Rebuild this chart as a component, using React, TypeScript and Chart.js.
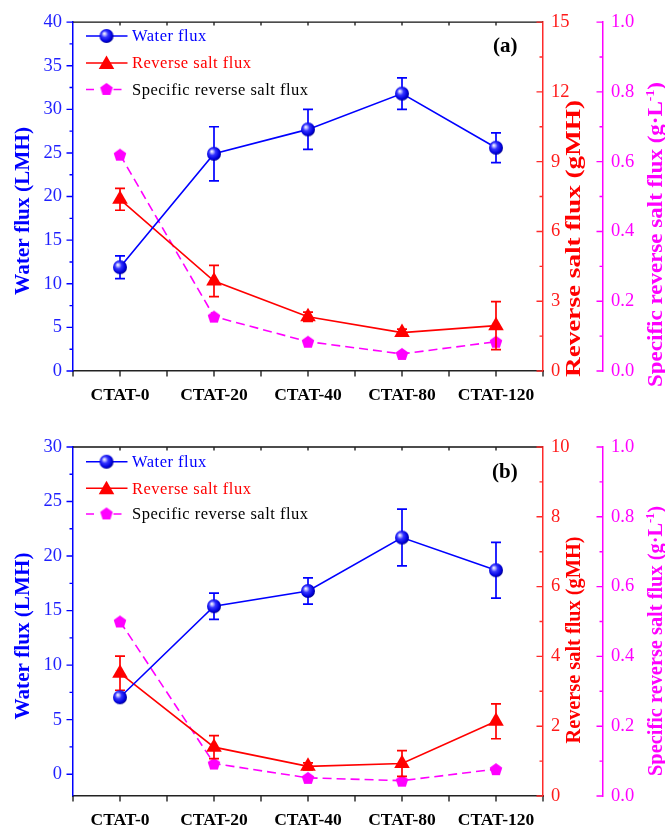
import React, { useEffect, useRef } from 'react';
import { Chart, registerables } from 'chart.js';
Chart.register(...registerables);

// ---------------- data ----------------
const categories = ['CTAT-0', 'CTAT-20', 'CTAT-40', 'CTAT-80', 'CTAT-120'];
const legendLabels = ['Water flux', 'Reverse salt flux', 'Specific reverse salt flux'];

const waterFluxA = [11.9, 24.9, 27.7, 31.8, 25.6];
const waterErrA = [1.3, 3.1, 2.3, 1.8, 1.7];
const reverseSaltA = [7.38, 3.87, 2.33, 1.65, 1.95];
const reverseErrA = [0.47, 0.67, 0.2, 0.15, 1.03];
const specificA = [0.62, 0.156, 0.084, 0.049, 0.084];

const waterFluxB = [7.05, 15.4, 16.8, 21.7, 18.7];
const waterErrB = [0.3, 1.2, 1.2, 2.6, 2.55];
const reverseSaltB = [3.52, 1.4, 0.85, 0.93, 2.14];
const reverseErrB = [0.49, 0.33, 0.1, 0.37, 0.5];
const specificB = [0.5, 0.093, 0.052, 0.044, 0.077];

const waterRangeA = [0, 40];
const reverseRangeA = [0, 15];
const waterRangeB = [-2, 30];
const reverseRangeB = [0, 10];
const specificRange = [0, 1];

// ---------------- styles ----------------
const BLUE = '#0000ff';
const RED = '#ff0000';
const MAG = '#ff00ff';
const SERIF = '"Liberation Serif", "Times New Roman", serif';

type Spec = {
  label: string;
  water: number[]; waterErr: number[];
  reverse: number[]; reverseErr: number[];
  specific: number[];
  left: number[]; leftStep: number; leftMajor: number;
  red: number[]; redStep: number; redMajor: number;
  padTop: number; xHeight: number;
  legendY: number[]; labelY: number; labelX: number;
  titleY: { blue: number; red: number; mag: number };
  titleLen: { blue: number; red: number; mag: number };
};

const panels: Spec[] = [
  {
    label: '(a)', water: waterFluxA, waterErr: waterErrA, reverse: reverseSaltA, reverseErr: reverseErrA, specific: specificA,
    left: waterRangeA, leftStep: 2.5, leftMajor: 5, red: reverseRangeA, redStep: 1.5, redMajor: 3,
    padTop: 22, xHeight: 43, legendY: [36, 63, 89.5], labelY: 46.7, labelX: 493,
    titleY: { blue: 211, red: 238.5, mag: 234.5 }, titleLen: { blue: 168, red: 277, mag: 305 },
  },
  {
    label: '(b)', water: waterFluxB, waterErr: waterErrB, reverse: reverseSaltB, reverseErr: reverseErrB, specific: specificB,
    left: waterRangeB, leftStep: 2.5, leftMajor: 5, red: reverseRangeB, redStep: 1, redMajor: 2,
    padTop: 33, xHeight: 32, legendY: [47.7, 74.3, 100], labelY: 58.3, labelX: 492,
    titleY: { blue: 222, red: 226, mag: 227 }, titleLen: { blue: 167, red: 207, mag: 270 },
  },
];

const isMult = (v: number, m: number) => Math.abs(v / m - Math.round(v / m)) < 1e-6;

function makeSphere(): HTMLCanvasElement {
  const c = document.createElement('canvas');
  c.width = 16; c.height = 16;
  const g = c.getContext('2d')!;
  const cx = 8, cy = 8, r = 7;
  const grad = g.createRadialGradient(cx - 2.3, cy - 2.5, 0, cx - 0.8, cy - 0.8, 8);
  grad.addColorStop(0, '#ffffff');
  grad.addColorStop(0.15, '#c4c4ff');
  grad.addColorStop(0.42, '#3434ff');
  grad.addColorStop(0.8, '#0000dd');
  grad.addColorStop(1, '#000090');
  g.fillStyle = grad;
  g.beginPath(); g.arc(cx, cy, r, 0, Math.PI * 2); g.fill();
  return c;
}

function makePentagon(): HTMLCanvasElement {
  const c = document.createElement('canvas');
  c.width = 16; c.height = 16;
  const g = c.getContext('2d')!;
  const cx = 8, cy = 8.6, r = 6.6;
  g.fillStyle = MAG;
  g.beginPath();
  for (let k = 0; k < 5; k++) {
    const a = -Math.PI / 2 + k * (2 * Math.PI / 5);
    const x = cx + r * Math.cos(a), y = cy + r * Math.sin(a);
    if (k === 0) g.moveTo(x, y); else g.lineTo(x, y);
  }
  g.closePath(); g.fill();
  return c;
}

function drawTriangle(ctx: CanvasRenderingContext2D, x: number, y: number, r: number) {
  ctx.beginPath();
  let rad = 0;
  ctx.moveTo(x + Math.sin(rad) * r, y - Math.cos(rad) * r);
  rad += (2 * Math.PI) / 3;
  ctx.lineTo(x + Math.sin(rad) * r, y - Math.cos(rad) * r);
  rad += (2 * Math.PI) / 3;
  ctx.lineTo(x + Math.sin(rad) * r, y - Math.cos(rad) * r);
  ctx.closePath();
  ctx.fill();
}

function drawVTitle(ctx: CanvasRenderingContext2D, parts: { text: string; font: string; dy?: number }[], cx: number, cy: number, target: number, color: string) {
  ctx.save();
  ctx.fillStyle = color;
  let total = 0;
  const widths = parts.map((p) => { ctx.font = p.font; const w = ctx.measureText(p.text).width; total += w; return w; });
  ctx.translate(cx, cy);
  ctx.rotate(-Math.PI / 2);
  ctx.scale(target / total, 1);
  ctx.textBaseline = 'middle';
  ctx.textAlign = 'left';
  let x = -total / 2;
  parts.forEach((p, i) => { ctx.font = p.font; ctx.fillText(p.text, x, p.dy || 0); x += widths[i]; });
  ctx.restore();
}

function makeDecor(spec: Spec, sphere: HTMLCanvasElement, pentagon: HTMLCanvasElement) {
  const errs = [spec.waterErr, spec.reverseErr, null];
  const errColors = [BLUE, RED, MAG];
  return {
    id: 'decor',
    beforeDatasetDraw(chart: any, args: any) {
      const e = errs[args.index];
      if (!e) return;
      const meta = args.meta;
      const ys = chart.scales[meta.yAxisID];
      const ds = chart.data.datasets[args.index];
      const ctx: CanvasRenderingContext2D = chart.ctx;
      ctx.save();
      ctx.strokeStyle = errColors[args.index];
      ctx.lineWidth = 1.7;
      meta.data.forEach((pt: any, j: number) => {
        const v = ds.data[j].y;
        const x = pt.x;
        const y1 = ys.getPixelForValue(v + e[j]);
        const y2 = ys.getPixelForValue(v - e[j]);
        ctx.beginPath();
        ctx.moveTo(x, y1); ctx.lineTo(x, y2);
        ctx.moveTo(x - 5, y1); ctx.lineTo(x + 5, y1);
        ctx.moveTo(x - 5, y2); ctx.lineTo(x + 5, y2);
        ctx.stroke();
      });
      ctx.restore();
    },
    afterDraw(chart: any) {
      const ctx: CanvasRenderingContext2D = chart.ctx;
      const ca = chart.chartArea;
      const xs = chart.scales.x, yl = chart.scales.y, yr = chart.scales.yRed, ym = chart.scales.yMag;
      ctx.save();
      ctx.lineWidth = 1.4;
      // top frame line
      ctx.strokeStyle = '#111';
      ctx.beginPath(); ctx.moveTo(ca.left, ca.top); ctx.lineTo(ca.right, ca.top); ctx.stroke();
      // x ticks
      ctx.strokeStyle = '#222';
      ctx.beginPath();
      xs.ticks.forEach((t: any) => {
        const x = xs.getPixelForValue(t.value);
        ctx.moveTo(x, ca.bottom); ctx.lineTo(x, ca.bottom + 5.5);
        if (t.value > xs.min + 1e-6 && t.value < xs.max - 1e-6) { ctx.moveTo(x, ca.top); ctx.lineTo(x, ca.top + 3.5); }
      });
      ctx.stroke();
      const yTicks = (scale: any, step: number, major: number, x: number, dir: number, color: string) => {
        ctx.strokeStyle = color;
        ctx.beginPath();
        scale.ticks.forEach((t: any) => {
          if (!isMult(t.value, step)) return;
          const y = scale.getPixelForValue(t.value);
          const len = isMult(t.value, major) ? 6.5 : 3.5;
          ctx.moveTo(x, y); ctx.lineTo(x + dir * len, y);
        });
        ctx.stroke();
      };
      yTicks(yl, spec.leftStep, spec.leftMajor, yl.right, -1, BLUE);
      yTicks(yr, spec.redStep, spec.redMajor, yr.left, -1, '#ff2a2a');
      yTicks(ym, 0.1, 0.2, ym.left, -1, MAG);
      ctx.restore();

      // axis titles
      const tf = `bold 20px ${SERIF}`;
      drawVTitle(ctx, [{ text: 'Water flux (LMH)', font: tf }], 24, spec.titleY.blue, spec.titleLen.blue, BLUE);
      drawVTitle(ctx, [{ text: 'Reverse salt flux (gMH)', font: tf }], 575, spec.titleY.red, spec.titleLen.red, RED);
      drawVTitle(ctx, [
        { text: 'Specific reverse salt flux (g\u00B7L', font: tf },
        { text: '-1', font: `bold 12px ${SERIF}`, dy: -6 },
        { text: ')', font: tf },
      ], 657, spec.titleY.mag, spec.titleLen.mag, MAG);

      // legend
      ctx.save();
      const lx0 = 86, lx1 = 127.5, mx = 106.5, tx = 132;
      ctx.lineWidth = 1.6;
      // water
      let y = spec.legendY[0];
      ctx.strokeStyle = BLUE;
      ctx.beginPath(); ctx.moveTo(lx0, y); ctx.lineTo(lx1, y); ctx.stroke();
      ctx.drawImage(sphere, mx - 8, y - 8);
      // reverse
      y = spec.legendY[1];
      ctx.strokeStyle = RED;
      ctx.beginPath(); ctx.moveTo(lx0, y); ctx.lineTo(lx1, y); ctx.stroke();
      ctx.fillStyle = RED;
      drawTriangle(ctx, mx, y + 1.5, 9);
      // specific
      y = spec.legendY[2];
      ctx.strokeStyle = MAG;
      ctx.beginPath(); ctx.moveTo(lx0, y); ctx.lineTo(lx0 + 8, y); ctx.moveTo(113.5, y); ctx.lineTo(121.5, y); ctx.stroke();
      ctx.drawImage(pentagon, mx - 8, y - 8.6);
      ctx.font = `16.5px ${SERIF}`;
      (ctx as any).letterSpacing = '0.5px';
      ctx.textBaseline = 'middle';
      ctx.textAlign = 'left';
      const colors = [BLUE, RED, '#000'];
      legendLabels.forEach((l, i) => { ctx.fillStyle = colors[i]; ctx.fillText(l, tx, spec.legendY[i] + 1); });
      (ctx as any).letterSpacing = '0px';
      // panel label
      ctx.font = `bold 21px ${SERIF}`;
      ctx.fillStyle = '#000';
      ctx.fillText(spec.label, spec.labelX, spec.labelY);
      ctx.restore();
    },
  };
}

function buildConfig(spec: Spec, sphere: HTMLCanvasElement, pentagon: HTMLCanvasElement): any {
  const pts = (arr: number[]) => arr.map((v, i) => ({ x: i, y: v }));
  const tickFont = { family: SERIF, size: 18.5 };
  return {
    type: 'line',
    data: {
      datasets: [
        {
          label: legendLabels[0], data: pts(spec.water), yAxisID: 'y',
          borderColor: BLUE, borderWidth: 1.6, pointStyle: sphere, pointRadius: 7, tension: 0, fill: false,
        },
        {
          label: legendLabels[1], data: pts(spec.reverse), yAxisID: 'yRed',
          borderColor: RED, borderWidth: 1.6, pointStyle: 'triangle', pointRadius: 9,
          pointBackgroundColor: RED, pointBorderColor: RED, pointBorderWidth: 0, tension: 0, fill: false,
        },
        {
          label: legendLabels[2], data: pts(spec.specific), yAxisID: 'yMag',
          borderColor: MAG, borderWidth: 1.6, borderDash: [9, 5], pointStyle: pentagon, pointRadius: 7, tension: 0, fill: false,
        },
      ],
    },
    options: {
      animation: false,
      responsive: false,
      devicePixelRatio: 1,
      layout: { padding: { top: spec.padTop, left: 0, right: 0, bottom: 0 } },
      plugins: { legend: { display: false }, tooltip: { enabled: false } },
      scales: {
        x: {
          type: 'linear', position: 'bottom', min: -0.5, max: 4.5,
          afterFit: (s: any) => { s.height = spec.xHeight; },
          grid: { display: false, drawTicks: false },
          border: { display: true, color: '#222', width: 1.5 },
          ticks: {
            stepSize: 0.5, autoSkip: false, maxRotation: 0, minRotation: 0, padding: 14, color: '#000',
            font: { family: SERIF, size: 17.5, weight: 'bold' },
            callback: (v: number) => (isMult(v, 1) ? categories[Math.round(v)] : ''),
          },
        },
        y: {
          type: 'linear', position: 'left', min: spec.left[0], max: spec.left[1],
          afterFit: (s: any) => { s.width = 73; },
          grid: { display: false, drawTicks: false },
          border: { display: true, color: BLUE, width: 1.5 },
          ticks: {
            stepSize: spec.leftStep, autoSkip: false, padding: 11, color: '#1f1fff', font: tickFont,
            callback: (v: number) => (isMult(v, spec.leftMajor) ? String(Math.round(v)) : ''),
          },
        },
        yRed: {
          type: 'linear', position: 'right', weight: 1, min: spec.red[0], max: spec.red[1],
          afterFit: (s: any) => { s.width = 60; },
          grid: { display: false, drawTicks: false },
          border: { display: true, color: '#ff2a2a', width: 1.5 },
          ticks: {
            stepSize: spec.redStep, autoSkip: false, padding: 8, color: '#ff1a1a', font: tickFont,
            callback: (v: number) => (isMult(v, spec.redMajor) ? String(Math.round(v)) : ''),
          },
        },
        yMag: {
          type: 'linear', position: 'right', weight: 2, min: specificRange[0], max: specificRange[1],
          afterFit: (s: any) => { s.width = 62; },
          grid: { display: false, drawTicks: false },
          border: { display: true, color: MAG, width: 1.5 },
          ticks: {
            stepSize: 0.1, autoSkip: false, padding: 8, color: MAG, font: tickFont,
            callback: (v: number) => (isMult(v, 0.2) ? v.toFixed(1) : ''),
          },
        },
      },
    },
    plugins: [makeDecor(spec, sphere, pentagon)],
  };
}

export default function App() {
  const refA = useRef<HTMLCanvasElement>(null);
  const refB = useRef<HTMLCanvasElement>(null);
  useEffect(() => {
    const sphere = makeSphere();
    const pentagon = makePentagon();
    const charts = [refA, refB].map((r, i) => new Chart(r.current!, buildConfig(panels[i], sphere, pentagon)));
    return () => charts.forEach((c) => c.destroy());
  }, []);
  return (
    <div style={{ position: 'absolute', left: 0, top: 0, width: 665, height: 828, background: '#fff' }}>
      <canvas ref={refA} width={665} height={414} style={{ position: 'absolute', left: 0, top: 0, width: 665, height: 414 }} />
      <canvas ref={refB} width={665} height={414} style={{ position: 'absolute', left: 0, top: 414, width: 665, height: 414 }} />
    </div>
  );
}
